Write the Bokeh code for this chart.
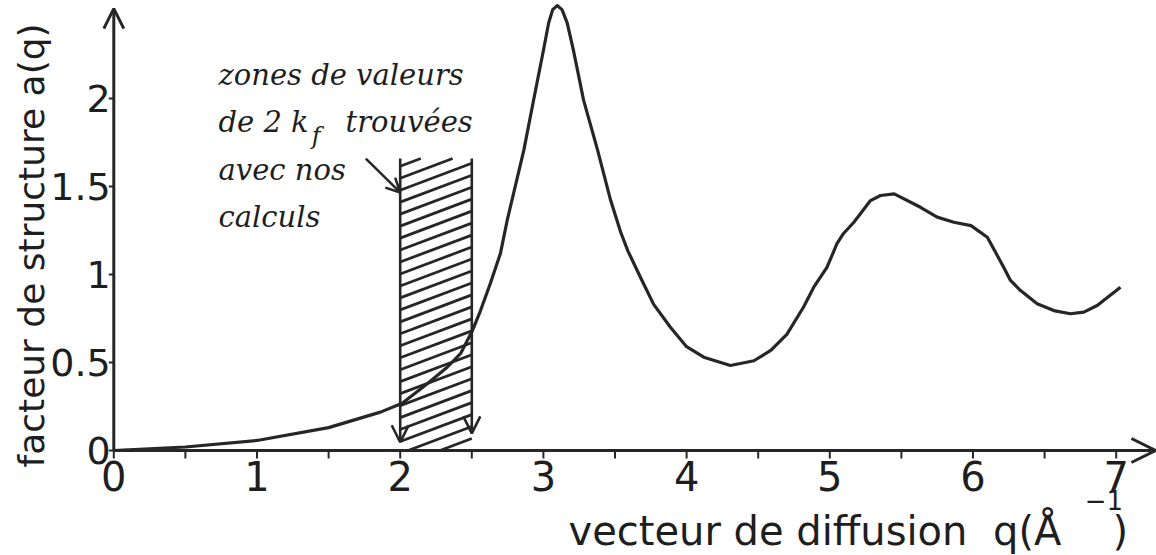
import math
from bokeh.plotting import figure
from bokeh.models import Range1d, Arrow, OpenHead, ColumnDataSource
from bokeh.core.properties import value
from bokeh.embed import file_html
from bokeh.resources import INLINE

# ---- data ----
q_values = [0, 0.5, 1.0, 1.5, 1.862, 2.014, 2.189, 2.328, 2.421,
            2.505, 2.561, 2.63, 2.70, 2.747, 2.863, 2.931, 3.0, 3.037, 3.065, 3.096,
            3.13, 3.166, 3.21, 3.281, 3.379, 3.47, 3.54, 3.589, 3.68, 3.77, 3.887,
            4.0, 4.12, 4.306, 4.47, 4.59, 4.70, 4.816, 4.888, 4.98, 5.05,
            5.096, 5.168, 5.215, 5.284, 5.354, 5.45, 5.633, 5.75, 5.866, 5.986,
            6.10, 6.215, 6.262, 6.33, 6.448, 6.564, 6.68, 6.774, 6.867, 7.03]
a_values = [0, 0.02, 0.057, 0.13, 0.218, 0.269, 0.379, 0.473, 0.55,
            0.682, 0.795, 0.95, 1.12, 1.307, 1.705, 1.989, 2.273, 2.43, 2.505, 2.528,
            2.505, 2.43, 2.273, 1.989, 1.705, 1.42, 1.24, 1.136, 0.98, 0.83, 0.70,
            0.59, 0.53, 0.483, 0.51, 0.57, 0.66, 0.814, 0.928, 1.04, 1.175,
            1.233, 1.297, 1.347, 1.42, 1.449, 1.458, 1.382, 1.326, 1.297, 1.278,
            1.212, 1.04, 0.966, 0.91, 0.834, 0.795, 0.777, 0.786, 0.824, 0.928]

x_ticks = [0, 1, 2, 3, 4, 5, 6, 7]
x_tick_labels = ["0", "1", "2", "3", "4", "5", "6", "7"]
x_minor_ticks = [0.5, 1.5, 2.5, 3.5, 4.5, 5.5, 6.5]
y_ticks = [0, 0.5, 1, 1.5, 2]
y_tick_labels = ["0", "0.5", "1", "1.5", "2"]
x_axis_end = 7.274
y_axis_end = 2.511

zone_q = [2.0, 2.5]          # zone of 2 k_f values
zone_top = 1.659
zone_arrow_ends = [0.047, 0.097]

x_label = ["vecteur de diffusion", "q(Å", "−1", ")"]
y_label = "facteur de structure a(q)"
note_lines = ["zones de valeurs", "de 2 k", "avec nos", "calculs"]
note_sub = "f"
note_rest = "trouvées"

INK = "#262626"
TXT = "#1e1e1e"
PX_X = 143.2   # pixels per unit q
PX_Y = 176.0   # pixels per unit a(q)

p = figure(width=1156, height=555,
           x_range=Range1d(-113.3 / PX_X, (1156 - 113.3) / PX_X),
           y_range=Range1d(-(555 - 450) / PX_Y, 450 / PX_Y),
           output_backend="svg", toolbar_location=None,
           x_axis_location=None, y_axis_location=None, min_border=0)
p.min_border_left = p.min_border_right = p.min_border_top = p.min_border_bottom = 0
p.outline_line_color = None
p.grid.visible = False
p.background_fill_color = "white"
p.border_fill_color = "white"

# axes with arrow heads
p.add_layout(Arrow(x_start=0, y_start=0, x_end=0, y_end=y_axis_end,
                   line_color=INK, line_width=3,
                   end=OpenHead(size=20, line_width=3, line_color=INK)))
p.add_layout(Arrow(x_start=0, y_start=0, x_end=x_axis_end, y_end=0,
                   line_color=INK, line_width=3,
                   end=OpenHead(size=24, line_width=3, line_color=INK)))

# ticks
xt_all = x_ticks + x_minor_ticks
p.segment(x0=xt_all, y0=[0] * len(xt_all), x1=xt_all, y1=[-8 / PX_Y] * len(xt_all),
          line_color=INK, line_width=2)
p.segment(x0=[0] * len(y_ticks), y0=y_ticks, x1=[-5 / PX_X] * len(y_ticks), y1=y_ticks,
          line_color=INK, line_width=2)

# tick labels (vertical centre of the digits)
p.text(x=x_ticks, y=[-25 / PX_Y] * len(x_ticks), text=x_tick_labels,
       text_font=value("DejaVu Sans"), text_font_size="40px", text_color=TXT,
       text_align="center", text_baseline="middle")
p.text(x=[-3 / PX_X] * len(y_ticks), y=y_ticks, text=y_tick_labels,
       text_font=value("DejaVu Sans"), text_font_size="38px", text_color=TXT,
       text_align="right", text_baseline="middle")

# hatched zone
z0, z1 = zone_q
w = z1 - z0
slope = 0.306
step = 0.068
xs0, ys0, xs1, ys1 = [], [], [], []
b = -slope * w
while b < zone_top:
    xa = max(z0, z0 + (0 - b) / slope)
    xb = min(z1, z0 + (zone_top - b) / slope)
    if xb > xa:
        xs0.append(xa); ys0.append(b + slope * (xa - z0))
        xs1.append(xb); ys1.append(b + slope * (xb - z0))
    b += step
p.segment(x0=xs0, y0=ys0, x1=xs1, y1=ys1, line_color=INK, line_width=2.8)

for zq, ze in zip(zone_q, zone_arrow_ends):
    p.add_layout(Arrow(x_start=zq, y_start=zone_top, x_end=zq, y_end=ze,
                       line_color=INK, line_width=2.6,
                       end=OpenHead(size=17, line_width=2.6, line_color=INK)))

# pointer arrow from the note
p.add_layout(Arrow(x_start=1.760, y_start=zone_top, x_end=2.0, y_end=1.466,
                   line_color=INK, line_width=2.5,
                   end=OpenHead(size=14, line_width=2.5, line_color=INK)))

# the curve
src = ColumnDataSource(dict(q=q_values, a=a_values))
p.line("q", "a", source=src, line_color=INK, line_width=3.2, line_join="round")

# handwritten note (y = vertical centre of each line)
note_font = value("DejaVu Serif")
note_x = 0.731
note_y = [2.131, 1.864, 1.591, 1.324]
p.text(x=[note_x] * len(note_lines), y=note_y, text=note_lines, text_font=note_font,
       text_font_style="italic", text_font_size="29px", text_color=TXT,
       text_baseline="middle")
p.text(x=[1.382], y=[1.785], text=[note_sub], text_font=note_font,
       text_font_style="italic", text_font_size="24px", text_color=TXT,
       text_baseline="middle")
p.text(x=[1.618], y=[note_y[1]], text=[note_rest], text_font=note_font,
       text_font_style="italic", text_font_size="29px", text_color=TXT,
       text_baseline="middle")

# axis titles
p.text(x=[-0.575], y=[1.165], text=[y_label], angle=math.pi / 2,
       text_align="center", text_baseline="middle", text_font=value("DejaVu Sans"),
       text_font_size="36px", text_color=TXT)
xl_x = [3.175, 6.14, 6.78, 6.974]
xl_y = [-0.46, -0.46, -0.28, -0.46]
xl_size = ["40px", "40px", "26px", "40px"]
for txt, xx, yy, fs in zip(x_label, xl_x, xl_y, xl_size):
    p.text(x=[xx], y=[yy], text=[txt], text_font=value("DejaVu Sans"), text_font_size=fs,
           text_color=TXT, text_baseline="middle")

open("out.html", "w").write(file_html(p, INLINE))
